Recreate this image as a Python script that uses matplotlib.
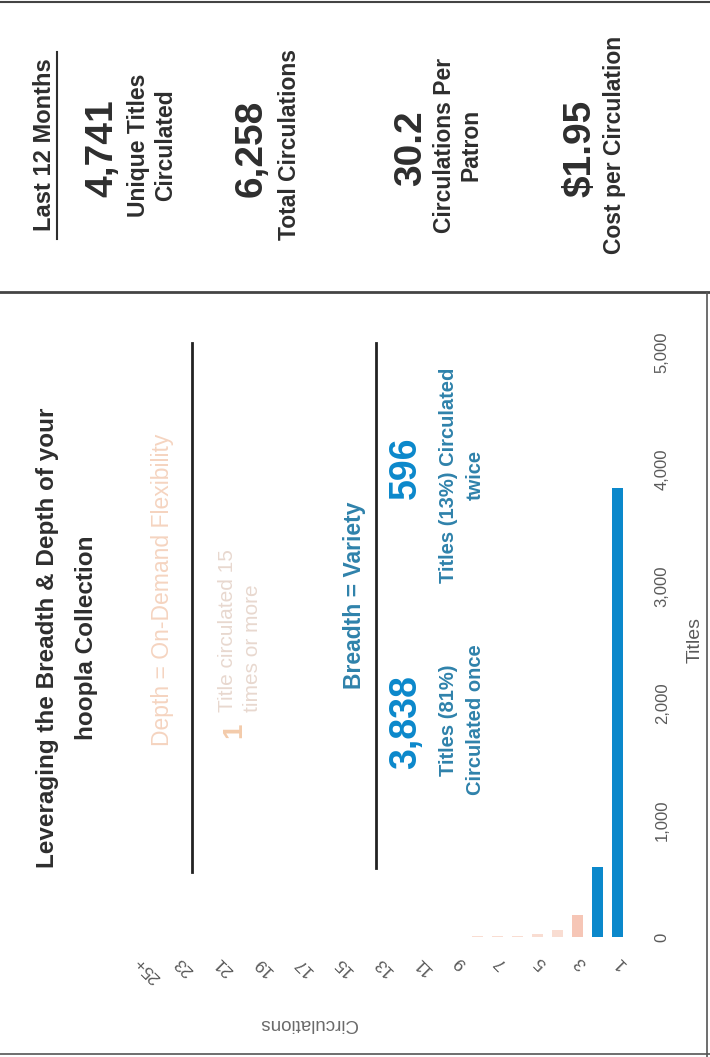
# hoopla circulation summary slide (scanned page, rotated)
import matplotlib.pyplot as plt

plt.rcParams['font.family'] = ['Liberation Sans', 'DejaVu Sans']

W, H = 710, 1057

# bar chart data
circulations = list(range(1, 26))
titles = [3838, 596, 190, 58, 24, 12, 8, 5, 3, 2, 1, 1, 1, 0, 1,
          0, 0, 0, 0, 0, 0, 0, 0, 0, 1]
tick_cats = [1, 3, 5, 7, 9, 11, 13, 15, 17, 19, 21, 23, 25]
tick_labels = ['1', '3', '5', '7', '9', '11', '13', '15', '17', '19', '21', '23', '25+']
value_ticks = [0, 1000, 2000, 3000, 4000, 5000]

# stats panel
stat_values = ['4,741', '6,258', '30.2', '$1.95']
stat_labels = ['Unique Titles\nCirculated', 'Total Circulations',
               'Circulations Per\nPatron', 'Cost per Circulation']

# callouts
breadth_values = ['3,838', '596']
breadth_labels = ['Titles (81%)\nCirculated once', 'Titles (13%) Circulated\ntwice']

DARK = '#2e2e2e'
BLUE = '#0b88cb'
TEAL = '#2f82ab'
FADE = '#f5d4c0'
GRAY = '#5a5a5a'

fig = plt.figure(figsize=(W / 100, H / 100), dpi=100)

# background layer in pixel coords
bg = fig.add_axes([0, 0, 1, 1])
bg.set_xlim(0, W)
bg.set_ylim(H, 0)
bg.axis('off')

# page frame
bg.plot([0, W], [2, 2], color='#444444', lw=1.5)
bg.plot([0, W], [292, 292], color='#444444', lw=2)
bg.plot([707, 707], [292, H], color='#555555', lw=1.2)
bg.plot([0, W], [1054, 1054], color='#555555', lw=1.2)

# title
bg.text(48, 638, 'Leveraging the Breadth & Depth of your', rotation=90,
        ha='center', va='center', fontsize=17.5, fontweight='bold', color=DARK)
bg.text(87, 638, 'hoopla Collection', rotation=90,
        ha='center', va='center', fontsize=17.5, fontweight='bold', color=DARK)

# depth section (faded)
bg.text(163, 590, 'Depth = On-Demand Flexibility', rotation=90,
        ha='center', va='center', fontsize=16.5, color=FADE)
bg.text(234, 730, '1', rotation=90, ha='center', va='center',
        fontsize=20, fontweight='bold', color='#f3cbab')
bg.text(240, 712, 'Title circulated 15\ntimes or more', rotation=90,
        ha='center', va='bottom', fontsize=15, color='#e8d8cf',
        linespacing=1.45, multialignment='left')

# divider lines
bg.plot([192, 192], [343, 872], color='#222222', lw=2)
bg.plot([376, 376], [343, 868], color='#222222', lw=2)

# breadth section
bg.text(355, 595, 'Breadth = Variety', rotation=90, ha='center', va='center',
        fontsize=16.5, fontweight='bold', color=TEAL)
for val, lab, yc, vy in zip(breadth_values, breadth_labels, [720, 475], [722, 468]):
    bg.text(406, vy, val, rotation=90, ha='center', va='center',
            fontsize=27, fontweight='bold', color=BLUE)
    bg.text(462, yc, lab, rotation=90, ha='center', va='center',
            fontsize=14.5, fontweight='bold', color=TEAL,
            linespacing=1.55, multialignment='center')

# stats panel
bg.text(45, 145, 'Last 12 Months', rotation=90, ha='center', va='center',
        fontsize=17, fontweight='bold', color=DARK)
bg.plot([57, 57], [52, 239], color=DARK, lw=1.5)
num_x = [102, 252, 411, 580]
lab_x = [152, 290, 458, 615]
for val, lab, nx, lx in zip(stat_values, stat_labels, num_x, lab_x):
    bg.text(nx, 148, val, rotation=90, ha='center', va='center',
            fontsize=28, fontweight='bold', color=DARK)
    bg.text(lx, 145, lab, rotation=90, ha='center', va='center',
            fontsize=16.5, fontweight='bold', color=DARK,
            linespacing=1.2, multialignment='center')

# bar chart (category axis runs right to left, values upward)
left, right, base, top = 127, 627, 937, 352
ax = fig.add_axes([left / W, (H - base) / H, (right - left) / W, (base - top) / H])
ax.patch.set_alpha(0)
colors = [BLUE, BLUE, '#f6c6b6'] + ['#f9ddd2'] * 22
ax.bar(circulations, titles, width=0.55, color=colors)
ax.set_xlim(25.5, 0.5)
ax.set_ylim(0, 5000)
for s in ax.spines.values():
    s.set_visible(False)

ax.yaxis.tick_right()
ax.set_yticks(value_ticks)
ax.set_yticklabels([f'{v:,}' for v in value_ticks], rotation=90, va='center',
                   fontsize=12, color=GRAY)
ax.set_xticks(tick_cats)
ax.set_xticklabels(tick_labels, rotation=135, ha='right', va='center',
                   rotation_mode='anchor', fontsize=12.5, color=GRAY)
ax.tick_params(axis='y', length=0, pad=20)
ax.tick_params(axis='x', length=0, pad=16)

ax.set_xlabel('Circulations', rotation=180, fontsize=13.5, color='#6a6a6a')
ax.xaxis.set_label_coords((308 - left) / (right - left), (base - 1015) / (base - top))
ax.yaxis.set_label_position('right')
ax.set_ylabel('Titles', rotation=90, fontsize=14, color=GRAY)
ax.yaxis.set_label_coords((687 - left) / (right - left), (base - 640) / (base - top))

fig.savefig('out.png', dpi=100)
